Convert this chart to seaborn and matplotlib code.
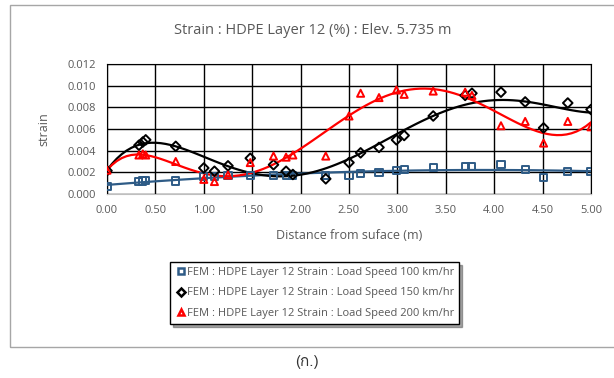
import numpy as np
import matplotlib
matplotlib.use("Agg")
import matplotlib.pyplot as plt
import seaborn as sns
from matplotlib import font_manager
from matplotlib.ft2font import FT2Font
from matplotlib.lines import Line2D
from matplotlib.patches import Rectangle

# data
distance = [0.00, 0.33, 0.37, 0.40, 0.71, 1.00, 1.11, 1.25, 1.48, 1.72, 1.85, 1.92, 2.26,
            2.50, 2.62, 2.81, 2.99, 3.07, 3.37, 3.70, 3.77, 4.07, 4.32, 4.51, 4.76, 5.00]
strain_100 = [0.00065, 0.00115, 0.0012, 0.00123, 0.0012, 0.0016, 0.0016, 0.00175, 0.0017,
              0.00175, 0.00168, 0.00168, 0.00175, 0.0017, 0.0019, 0.0020, 0.00215, 0.00228,
              0.00243, 0.0025, 0.0025, 0.00274, 0.00228, 0.0015, 0.00206, 0.0021]
strain_150 = [0.00215, 0.0045, 0.0048, 0.0050, 0.0044, 0.0024, 0.0021, 0.0026, 0.0033,
              0.0027, 0.0021, 0.0018, 0.0014, 0.0029, 0.0038, 0.0043, 0.0050, 0.0054,
              0.0072, 0.0091, 0.0093, 0.0094, 0.0085, 0.0061, 0.0084, 0.0078]
strain_200 = [0.0022, 0.0036, 0.0037, 0.0036, 0.0030, 0.00135, 0.00115, 0.00175, 0.0029,
              0.0035, 0.0034, 0.0036, 0.0035, 0.0072, 0.0093, 0.0089, 0.0096, 0.0092,
              0.0095, 0.0094, 0.0091, 0.0063, 0.0067, 0.0047, 0.0067, 0.0062]

labels = ["FEM : HDPE Layer 12 Strain : Load Speed 100 km/hr",
          "FEM : HDPE Layer 12 Strain : Load Speed 150 km/hr",
          "FEM : HDPE Layer 12 Strain : Load Speed 200 km/hr"]
colors = ["#2E5B86", "#000000", "#FF0000"]
markers = ["s", "D", "^"]
orders = [2, 5, 6]
series = [strain_100, strain_150, strain_200]


def find_thai_font():
    # look for any installed font that has the Thai letter ko kai
    for f in font_manager.fontManager.ttflist:
        try:
            if 0x0E01 in FT2Font(f.fname).get_charmap():
                return f.name
        except Exception:
            continue
    return None


sns.set_style("white")
plt.rcParams["font.family"] = ["Open Sans", "DejaVu Sans"]
txt = "#595959"

fig = plt.figure(figsize=(6.14, 3.78), dpi=100)
ax = fig.add_axes([107 / 614, 1 - 194 / 378, (591 - 107) / 614, (194 - 64) / 378])

# outer chart frame
fig.patches.append(Rectangle((10 / 614, 1 - 347 / 378), 1.0, (347 - 5) / 378,
                             transform=fig.transFigure, fill=False,
                             edgecolor="#A6A6A6", linewidth=1.0))

for y, c, m, o in zip(series, colors, markers, orders):
    sns.regplot(x=np.array(distance), y=np.array(y), order=o, ci=None, scatter=False,
                ax=ax, line_kws=dict(color=c, linewidth=1.6, zorder=3))
    sns.scatterplot(x=distance, y=y, marker=m, s=26 if m != "D" else 24,
                    facecolor="none", edgecolor=c, linewidth=1.4, ax=ax, zorder=4)

ax.set_xlim(0, 5)
ax.set_ylim(0, 0.012)
ax.set_xticks(np.arange(0, 5.01, 0.5))
ax.set_yticks(np.arange(0, 0.0121, 0.002))
ax.set_xticklabels([f"{v:.2f}" for v in np.arange(0, 5.01, 0.5)])
ax.set_yticklabels([f"{v:.3f}" for v in np.arange(0, 0.0121, 0.002)])
ax.grid(True, color="black", linewidth=1.0)
ax.set_axisbelow(True)
ax.tick_params(axis="both", labelsize=8, colors=txt, length=0, pad=8)
for s in ["top", "right", "left"]:
    ax.spines[s].set_color("black")
ax.spines["bottom"].set_color("#BFBFBF")

ax.set_xlabel("Distance from suface (m)", fontsize=9, color=txt, labelpad=9)
ax.set_ylabel("strain", fontsize=9, color=txt, labelpad=12)
fig.text(313 / 614, 1 - 31 / 378, "Strain : HDPE Layer 12 (%) : Elev. 5.735 m",
         ha="center", va="center", fontsize=10.5, color=txt)

handles = [Line2D([], [], marker=m, linestyle="none", markerfacecolor="none",
                  markeredgecolor=c, markeredgewidth=1.8, markersize=4.5)
           for c, m in zip(colors, markers)]
leg = fig.legend(handles, labels, loc="upper left",
                 bbox_to_anchor=(170 / 614, 1 - 262 / 378), fontsize=8,
                 frameon=True, fancybox=False, shadow=True, edgecolor="black",
                 handletextpad=0.1, handlelength=1.0, labelspacing=0.85,
                 borderpad=0.45, borderaxespad=0)
for t in leg.get_texts():
    t.set_color(txt)

thai = find_thai_font()
cap_family = ([thai] if thai else []) + ["Open Sans", "DejaVu Sans"]
fig.text(307 / 614, 1 - 362 / 378, "(ก.)", ha="center", va="center",
         fontsize=11, color="#333333", family=cap_family)

fig.savefig("out.png", dpi=100)
